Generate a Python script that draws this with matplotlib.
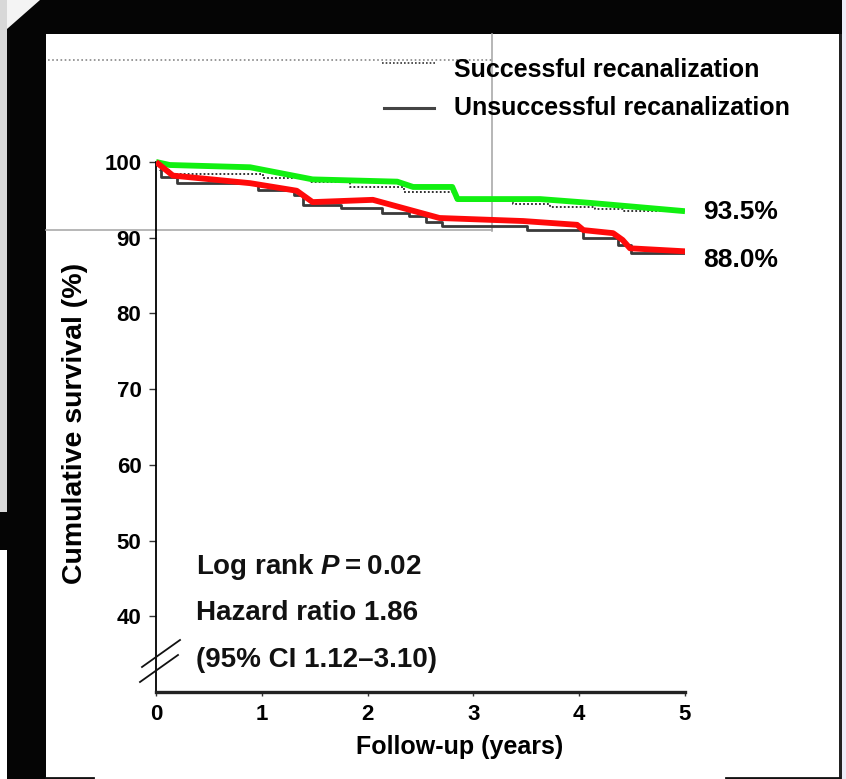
import matplotlib
matplotlib.use("Agg")
import matplotlib.pyplot as plt
from matplotlib.lines import Line2D
from matplotlib.patches import Rectangle, Polygon

plt.rcParams['font.family'] = ['Liberation Sans', 'DejaVu Sans']
plt.rcParams['font.weight'] = 'bold'
plt.rcParams['mathtext.fontset'] = 'custom'
plt.rcParams['mathtext.rm'] = 'Liberation Sans:bold'
plt.rcParams['mathtext.it'] = 'Liberation Sans:italic:bold'

# Kaplan-Meier steps (years, % surviving)
succ_t = [0, 0.04, 0.12, 1.01, 1.46, 1.83, 2.34, 2.83, 3.37, 3.72, 4.15, 4.41, 5.0]
succ_s = [100, 99.0, 98.4, 97.9, 97.4, 96.7, 96.1, 95.0, 94.5, 94.1, 93.8, 93.5, 93.5]
unsucc_t = [0, 0.05, 0.2, 0.96, 1.30, 1.39, 1.75, 2.14, 2.39, 2.55, 2.70, 3.51, 4.04, 4.37, 4.49, 5.0]
unsucc_s = [100, 98.0, 97.2, 96.3, 95.6, 94.3, 93.9, 93.2, 92.8, 92.1, 91.5, 91.0, 90.0, 89.0, 88.0, 88.0]

# smoothed highlight traces drawn over the curves
green_t = [0, 0.13, 0.89, 1.48, 2.28, 2.43, 2.80, 2.85, 3.63, 4.10, 5.0]
green_s = [100, 99.6, 99.3, 97.7, 97.4, 96.7, 96.7, 95.1, 95.1, 94.6, 93.5]
red_t = [0, 0.16, 0.89, 1.33, 1.48, 2.05, 2.68, 3.47, 3.98, 4.04, 4.32, 4.41, 4.48, 5.0]
red_s = [100, 98.2, 97.2, 96.2, 94.7, 95.0, 92.6, 92.2, 91.7, 91.0, 90.6, 89.7, 88.6, 88.2]

yticks = [40, 50, 60, 70, 80, 90, 100]
xticks = [0, 1, 2, 3, 4, 5]
end_labels = ["93.5%", "88.0%"]
end_label_y = [93.4, 87.0]
stats = ["Log rank $P$\u2009=\u20090.02", "Hazard ratio 1.86", "(95% CI 1.12\u20133.10)"]
stats_y = [46.5, 40.4, 34.2]

W, H = 846, 779


def fx(x):
    return x / W


def fy(y):
    return 1 - y / H


def box(fig, x0, y0, x1, y1, color, z=0):
    fig.add_artist(Rectangle((fx(x0), fy(y1)), (x1 - x0) / W, (y1 - y0) / H,
                             transform=fig.transFigure, color=color, lw=0, zorder=z))


def seg(fig, x0, y0, x1, y1, **kw):
    fig.add_artist(Line2D([fx(x0), fx(x1)], [fy(y0), fy(y1)],
                          transform=fig.transFigure, **kw))


fig = plt.figure(figsize=(8.46, 7.79), dpi=100)
fig.patch.set_facecolor('white')

# frame around the page
box(fig, 0, 0, 7, 512, '#d8d8d8')
box(fig, 0, 512, 7, 550, '#050505')
box(fig, 7, 0, 46, 779, '#050505')
box(fig, 7, 0, 842, 34, '#050505')
box(fig, 842, 0, 846, 779, '#ececf8')
box(fig, 839, 34, 842, 779, '#222222')
fig.add_artist(Polygon([[fx(7), fy(0)], [fx(40), fy(0)], [fx(7), fy(29)]],
                       closed=True, transform=fig.transFigure, color='#f4f4f4', lw=0))
seg(fig, 46, 778, 93, 778, color='#111111', lw=2)
seg(fig, 726, 778, 839, 778, color='#111111', lw=2)

# faint guide lines
seg(fig, 46, 230, 492, 230, color='#aaaaaa', lw=1.2, zorder=0)
seg(fig, 492, 34, 492, 231, color='#aaaaaa', lw=1.2, zorder=0)
seg(fig, 48, 60, 493, 60, color='#888888', lw=1.2, ls=(0, (1, 1.5)), zorder=0)

ax = fig.add_axes([fx(156), fy(692), (685 - 156) / W, (692 - 154.4) / H])
ax.set_facecolor('none')

ax.step(succ_t, succ_s, where='post', color='#222222', lw=1.3, ls=(0, (1, 1.2)), zorder=2)
ax.step(unsucc_t, unsucc_s, where='post', color='#3a3a3a', lw=2.0, zorder=2)
ax.plot(green_t, green_s, color='#11f011', lw=4.2, solid_capstyle='butt', zorder=3)
ax.plot(red_t, red_s, color='#ff0a0a', lw=4.2, solid_capstyle='butt', zorder=3)

ax.set_xlim(0, 5)
ax.set_ylim(30, 101)
ax.set_xticks(xticks)
ax.set_yticks(yticks)
ax.set_xticklabels([str(v) for v in xticks], fontsize=16, fontweight='bold')
ax.set_yticklabels([str(v) for v in yticks], fontsize=16, fontweight='bold')
ax.tick_params(axis='y', length=5, width=1, pad=5.5, color='#333333')
ax.tick_params(axis='x', length=3, width=1, pad=6, color='#333333')

for s in ['top', 'right']:
    ax.spines[s].set_visible(False)
ax.spines['left'].set_bounds(30, 100)
ax.spines['left'].set_linewidth(1.3)
ax.spines['bottom'].set_linewidth(2.4)
ax.spines['bottom'].set_color('#222222')

ax.set_xlabel("Follow-up (years)", fontsize=18, fontweight='bold')
ax.xaxis.set_label_coords((460 - 156) / 529, -0.08)
ax.set_ylabel("Cumulative survival (%)", fontsize=20.5, fontweight='bold', labelpad=12)

for lab, yv in zip(end_labels, end_label_y):
    ax.text(5.17, yv, lab, fontsize=19, fontweight='bold', va='center', ha='left')

for lab, yv in zip(stats, stats_y):
    ax.text(0.378, yv, lab, fontsize=20, fontweight='bold', va='center', ha='left',
            color='#111111')

# axis break marks
seg(fig, 142, 667, 180, 640, color='#111111', lw=1.3)
seg(fig, 140, 682, 178, 655, color='#111111', lw=1.3)

# legend
seg(fig, 382, 63, 436, 63, color='#333333', lw=1.2, ls=(0, (1, 1.2)))
seg(fig, 384, 108, 434, 108, color='#444444', lw=2.2)
fig.text(fx(454), fy(70), "Successful recanalization", fontsize=18,
         fontweight='bold', va='center', ha='left')
fig.text(fx(454), fy(108), "Unsuccessful recanalization", fontsize=18,
         fontweight='bold', va='center', ha='left')

fig.savefig("out.png", dpi=100)
